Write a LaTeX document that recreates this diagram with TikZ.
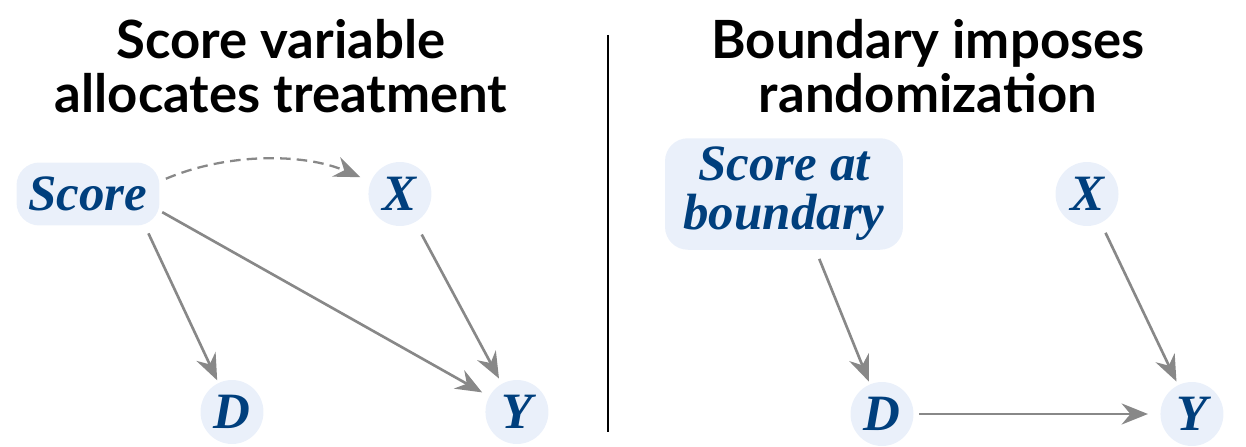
\documentclass[tikz,border=0pt]{standalone}
\usepackage{fontspec}
\setmainfont{Liberation Serif}
\newfontfamily\titlefont{Lato}
\usetikzlibrary{positioning,arrows.meta,shapes.geometric}
\definecolor{N}{RGB}{234,240,250}
\definecolor{T}{RGB}{0,63,125}
\definecolor{E}{RGB}{136,136,136}
\tikzstyle{title} = [
align=center,
font=\titlefont\bfseries\fontsize{30}{28.5}\selectfont
]
\tikzstyle{var} = [
ellipse,
minimum width=1.26cm,
minimum height=1.28cm,
inner sep=0pt,
fill=N,
text=T,
font=\bfseries\itshape\fontsize{29}{25}\selectfont
]
\tikzstyle{varbox} = [
rectangle,
rounded corners=13pt,
align=center,
inner sep=5pt,
fill=N,
text=T,
font=\bfseries\itshape\fontsize{29}{25}\selectfont
]
\tikzstyle{arrow} = [-{Stealth[length=15pt,width=12pt,inset=5pt]},line width=1.5pt,draw=E]

\begin{document}
\begin{tikzpicture}[x=0.02cm,y=-0.02cm,node distance=6.24cm]
      \useasboundingbox (0,0) rectangle (1246,446);
      % titles
      \node (titleL) [title] at (281,66) {Score variable\\[2pt]allocates treatment};
      \node (titleR) [title] at (928,66) {Boundary imposes\\[2pt]randomization};
      \coordinate (divtop) at (608,35);
      \coordinate (divbot) at (608,432);
      \draw [line width=1.2pt] (divtop) -- (divbot);
      % left dag
      \node (scoreL) [varbox, minimum width=2.86cm, minimum height=1.26cm] at (88,194) {Score};
      \coordinate (scoreLp) at (130,194);
      \node (xL) [var, right of=scoreL] {X};
      \node (dL) [var] at (232,412) {D};
      \node (yL) [var, right of=dL, xshift=-0.54cm] {Y};
      \draw [arrow, dashed, dash pattern=on 6pt off 3.5pt, line width=1.3pt, bend left=23, shorten <=0.78cm, shorten >=0.86cm] (scoreLp) to (xL.center);
      \draw [arrow, shorten <=0.87cm, shorten >=0.7cm] (scoreLp) -- (dL.center);
      \draw [arrow, shorten <=0.74cm, shorten >=0.8cm] (scoreLp) -- (yL.center);
      \draw [arrow, shorten <=0.92cm, shorten >=0.76cm] (xL.center) -- (yL.center);
      % right dag
      \node (scoreR) [varbox, minimum width=4.76cm, minimum height=1.96cm] at (784,194) {Score at\\[3pt]boundary};
      \coordinate (scoreRp) at (793,194);
      \node (xR) [var] at (1087,194) {X};
      \node (dR) [var] at (882,414) {D};
      \node (yR) [var, right of=dR, xshift=-0.04cm] {Y};
      \draw [arrow, shorten <=1.4cm, shorten >=0.7cm] (scoreRp) -- (dR.center);
      \draw [arrow, shorten <=0.86cm, shorten >=0.72cm] (xR.center) -- (yR.center);
      \draw [arrow, shorten <=0.74cm, shorten >=0.88cm] (dR.center) -- (yR.center);
\end{tikzpicture}
\end{document}
